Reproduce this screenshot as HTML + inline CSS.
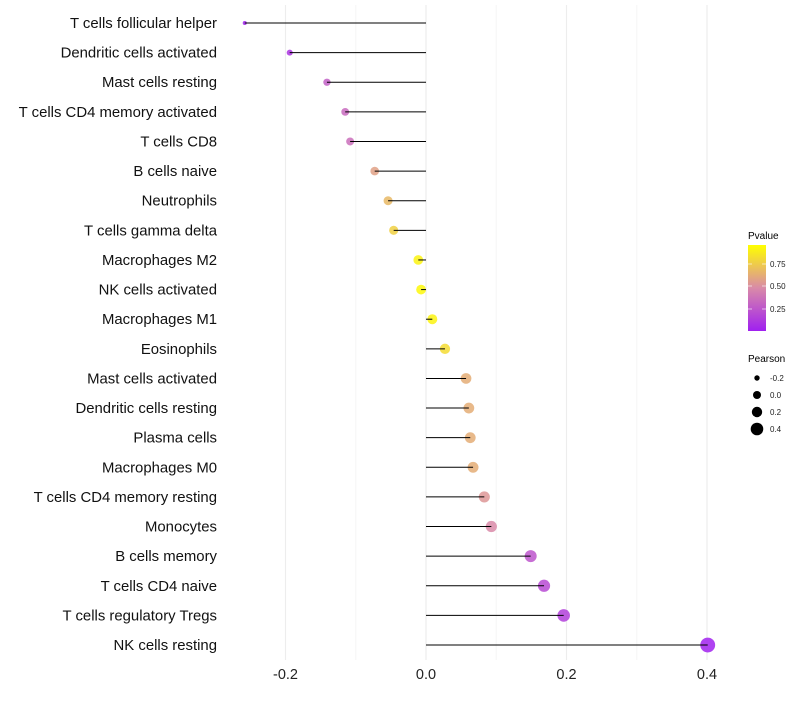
<!DOCTYPE html>
<html><head><meta charset="utf-8"><style>
body{margin:0;background:#fff;font-family:"Liberation Sans",Arial,sans-serif}
svg text{font-family:"Liberation Sans",Arial,sans-serif}
</style></head><body>
<svg id="c" width="800" height="700">
<defs><linearGradient id="pg" x1="0" y1="1" x2="0" y2="0">
<stop offset="0" stop-color="#a020f0"/><stop offset="0.5" stop-color="#d98aa8"/><stop offset="1" stop-color="#ffff00"/></linearGradient></defs>
<g id="grid"></g><g id="dots"></g><g id="marks"></g><g id="labels"></g>
<g>
<text x="748" y="239" font-size="10" fill="#000">Pvalue</text>
<rect x="748" y="245" width="18" height="86" fill="url(#pg)"/>
<line x1="748" y1="264" x2="752" y2="264" stroke="#fff" stroke-opacity="0.6"/><line x1="762" y1="264" x2="766" y2="264" stroke="#fff" stroke-opacity="0.6"/>
<line x1="748" y1="286" x2="752" y2="286" stroke="#fff" stroke-opacity="0.6"/><line x1="762" y1="286" x2="766" y2="286" stroke="#fff" stroke-opacity="0.6"/>
<line x1="748" y1="309" x2="752" y2="309" stroke="#fff" stroke-opacity="0.6"/><line x1="762" y1="309" x2="766" y2="309" stroke="#fff" stroke-opacity="0.6"/>
<text x="770" y="267" font-size="8" fill="#222">0.75</text>
<text x="770" y="289" font-size="8" fill="#222">0.50</text>
<text x="770" y="312" font-size="8" fill="#222">0.25</text>
</g>
<g>
<text x="748" y="362" font-size="10" fill="#000">Pearson</text>
<circle cx="757" cy="378" r="2.7" fill="#000"/><text x="770" y="381" font-size="8" fill="#222">-0.2</text>
<circle cx="757" cy="395" r="4" fill="#000"/><text x="770" y="398" font-size="8" fill="#222">0.0</text>
<circle cx="757" cy="412" r="5.2" fill="#000"/><text x="770" y="415" font-size="8" fill="#222">0.2</text>
<circle cx="757" cy="429" r="6.3" fill="#000"/><text x="770" y="432" font-size="8" fill="#222">0.4</text>
</g>
</svg>
<script>
const categories=["T cells follicular helper","Dendritic cells activated","Mast cells resting","T cells CD4 memory activated","T cells CD8","B cells naive","Neutrophils","T cells gamma delta","Macrophages M2","NK cells activated","Macrophages M1","Eosinophils","Mast cells activated","Dendritic cells resting","Plasma cells","Macrophages M0","T cells CD4 memory resting","Monocytes","B cells memory","T cells CD4 naive","T cells regulatory  Tregs ","NK cells resting"];
const pearson=[-0.258,-0.194,-0.141,-0.115,-0.108,-0.073,-0.054,-0.046,-0.011,-0.007,0.009,0.027,0.057,0.061,0.063,0.067,0.083,0.093,0.149,0.168,0.196,0.401];
const pvalues=[0.01,0.1,0.3,0.35,0.37,0.6,0.7,0.8,0.95,0.97,0.95,0.85,0.65,0.65,0.65,0.65,0.55,0.5,0.25,0.2,0.15,0.01];
const xTicks=[-0.2,0.0,0.2,0.4];
const xMinor=[-0.1,0.1,0.3];
const NS="http://www.w3.org/2000/svg";
const xs=v=>426+v*702.5;
const ys=i=>23+i*29.62;
const rs=v=>Math.sqrt(4+(v+0.26)*78);
function mix(a,b,t){return a.map((x,i)=>Math.round(x+(b[i]-x)*t));}
function col(p){const lo=[160,32,240],mid=[217,138,168],hi=[255,255,0];
const c=p<0.5?mix(lo,mid,p/0.5):mix(mid,hi,(p-0.5)/0.5);return `rgb(${c})`;}
function mk(tag,attrs,parent){const e=document.createElementNS(NS,tag);for(const k in attrs)e.setAttribute(k,attrs[k]);parent.appendChild(e);return e;}
const grid=document.getElementById('grid'),dots=document.getElementById('dots'),marks=document.getElementById('marks'),labels=document.getElementById('labels');
xMinor.forEach(v=>{const l=mk('line',{x1:xs(v),x2:xs(v),y1:5,y2:660,stroke:'#f5f5f5','stroke-width':1},grid);

});
xTicks.forEach(v=>{const l=mk('line',{x1:xs(v),x2:xs(v),y1:5,y2:660,stroke:'#ededed','stroke-width':1.2},grid);


const t=mk('text',{x:xs(v),y:679,'font-size':14.5,'text-anchor':'middle',fill:'#222'},labels);t.textContent=v.toFixed(1);

});
categories.forEach((c,i)=>{const y=ys(i),v=pearson[i];
const d=mk('circle',{cx:xs(v),cy:y,r:rs(v),fill:col(pvalues[i]),'fill-opacity':0.85},dots);


const l=mk('line',{x1:xs(0),x2:xs(v),y1:y,y2:y,stroke:'#000','stroke-width':1},marks);


const t=mk('text',{x:217,y:y+5,'font-size':14.9,'text-anchor':'end',fill:'#111'},labels);t.textContent=c;

});
</script>
</body></html>
